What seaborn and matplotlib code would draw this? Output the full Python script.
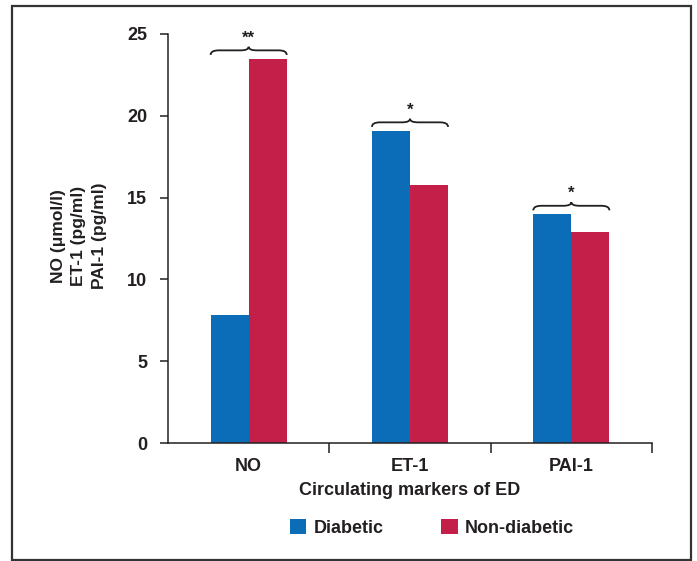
import matplotlib
matplotlib.use("Agg")
import matplotlib.pyplot as plt
from matplotlib.patches import Patch, Rectangle, PathPatch
from matplotlib.path import Path
import seaborn as sns
import pandas as pd

# Circulating markers of endothelial dysfunction, group means
markers = ["NO", "ET-1", "PAI-1"]
groups = ["Diabetic", "Non-diabetic"]
diabetic = [7.8, 19.1, 14.0]
non_diabetic = [23.5, 15.8, 12.9]
significance = ["**", "*", "*"]
y_ticks = [0, 5, 10, 15, 20, 25]

colors = ["#0b6db7", "#c41f48"]
ink = "#231f20"

df = pd.DataFrame({
    "marker": markers * 2,
    "group": [groups[0]] * 3 + [groups[1]] * 3,
    "value": diabetic + non_diabetic,
})

sns.set_style("white")
plt.rcParams["font.family"] = ["Liberation Sans", "DejaVu Sans"]
plt.rcParams["font.weight"] = "bold"

W, H = 697, 561
fig = plt.figure(figsize=(W / 100, H / 100), dpi=100)
ax = fig.add_axes([168 / W, 1 - 443 / H, (652 - 168) / W, (443 - 34) / H])

bar_width = 0.472
sns.barplot(data=df, x="marker", y="value", hue="group", order=markers,
            hue_order=groups, palette=colors, width=bar_width, saturation=1,
            linewidth=0, legend=False, ax=ax)

ax.set_xlim(-0.5, 2.5)
ax.set_ylim(0, 25)
ax.set_yticks(y_ticks)
ax.set_xticks(range(len(markers)))
ax.set_xticklabels(markers)
ax.set_xticks([0.5, 1.5, 2.5], minor=True)

for side in ("top", "right"):
    ax.spines[side].set_visible(False)
for side in ("left", "bottom"):
    ax.spines[side].set_color(ink)
    ax.spines[side].set_linewidth(1.1)

ax.tick_params(axis="y", direction="out", length=6, width=1.1, color=ink,
               pad=9, labelsize=13, labelcolor=ink, left=True)
ax.tick_params(axis="x", which="major", length=0, pad=11, labelsize=13,
               labelcolor=ink)
ax.tick_params(axis="x", which="minor", direction="out", length=7,
               width=1.1, color=ink, bottom=True)
for lbl in ax.get_xticklabels() + ax.get_yticklabels():
    lbl.set_fontweight("bold")

ax.set_ylabel("")
ax.set_xlabel("Circulating markers of ED", fontsize=13, fontweight="bold",
              color=ink, labelpad=5)

fig.text(79 / W, 1 - 236 / H, "NO (\u03bcmol/l)\nET-1 (pg/ml)\nPAI-1 (pg/ml)",
         rotation=90, ha="center", va="center", multialignment="center",
         fontsize=12.5, fontweight="bold", color=ink, linespacing=1.42)

# Curly brackets with significance stars over each pair of bars
half = bar_width / 2
dx = 0.05   # horizontal run of each curl
hook = 0.28  # depth of the end hooks
peak = 0.22  # height of the centre point
for i, (a, b, star) in enumerate(zip(diabetic, non_diabetic, significance)):
    y = max(a, b) + 0.5
    x0, x1 = i - half, i + half
    verts = [
        (x0, y - hook), (x0, y), (x0 + dx, y),
        (i - dx, y), (i, y), (i, y + peak),
        (i, y), (i + dx, y),
        (x1 - dx, y), (x1, y), (x1, y - hook),
    ]
    codes = [
        Path.MOVETO, Path.CURVE3, Path.CURVE3,
        Path.LINETO, Path.CURVE3, Path.CURVE3,
        Path.CURVE3, Path.CURVE3,
        Path.LINETO, Path.CURVE3, Path.CURVE3,
    ]
    ax.add_patch(PathPatch(Path(verts, codes), fill=False, edgecolor=ink,
                           linewidth=1.3, clip_on=False))
    ax.text(i, y + 0.3, star, ha="center", va="bottom", fontsize=12,
            fontweight="bold", color=ink, clip_on=False)

handles = [Patch(facecolor=c, edgecolor="none", label=g)
           for c, g in zip(colors, groups)]
fig.legend(handles=handles, loc="center", bbox_to_anchor=(432 / W, 1 - 528 / H),
           ncol=2, frameon=False, handlelength=0.9, handleheight=0.9,
           handletextpad=0.4, columnspacing=3.2,
           prop={"size": 13, "weight": "bold"}, labelcolor=ink)

# Outer frame around the figure
fig.patches.append(Rectangle((12 / W, 1 - 560 / H), (691 - 12) / W,
                             (560 - 6) / H, transform=fig.transFigure,
                             fill=False, edgecolor="#333333", linewidth=1.6))

fig.savefig("out.png", dpi=100)
